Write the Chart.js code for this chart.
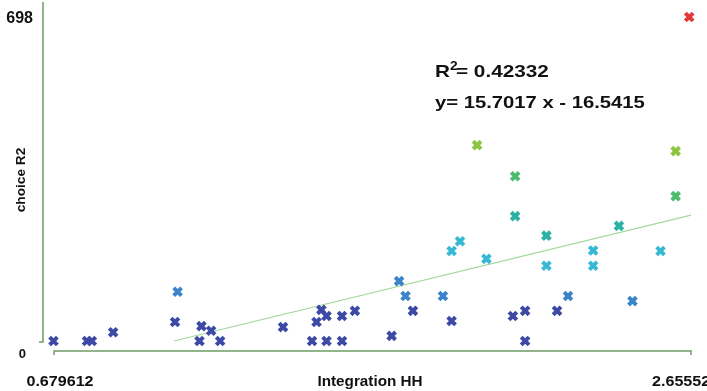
<!DOCTYPE html>
<html>
<head>
<meta charset="utf-8">
<script src="https://cdn.jsdelivr.net/npm/chart.js@4.4.1/dist/chart.umd.min.js"></script>
<style>
  html, body { margin: 0; padding: 0; background: #fff; }
  #wrap { width: 707px; height: 391px; }
</style>
</head>
<body>
<div id="wrap"><canvas id="myChart"></canvas></div>
<script>
(function () {
  'use strict'

  // Data
  const integrationHH = [
    0.678, 0.782, 0.797, 0.863, 1.063, 1.055, 1.137, 1.131, 1.167, 1.195,
    1.390, 1.480, 1.509, 1.494, 1.525, 1.525, 1.573, 1.573, 1.613, 1.727,
    1.750, 1.770, 1.793, 1.886, 1.913, 1.913, 1.939, 2.021, 2.103, 2.141,
    2.141, 2.207, 2.207, 2.240, 2.274, 2.352, 2.352, 2.474, 2.561, 1.992,
    2.110, 2.110, 2.432, 2.608, 2.608, 2.650
  ];
  const choiceR2 = [
    0, 0, 0, 19, 106, 41, 32, 0, 22, 0,
    30, 0, 67, 41, 54, 0, 54, 0, 65, 11,
    129, 97, 65, 97, 43, 194, 215, 177, 54, 65,
    0, 227, 162, 65, 97, 195, 162, 86, 194, 422,
    355, 269, 248, 409, 312, 698
  ];
  const trendX = [1.052, 2.65552];
  const trendY = [0, 271];
  const xTicks = ['0.679612', '2.65552'];
  const yTicks = ['0', '698'];
  const xRange = [0.679612, 2.65552];
  const yRange = [0, 698];

  // colour ramp by value
  function colorFor(v) {
    if (v >= 600) return '#e2393b';
    if (v >= 380) return '#8cc540';
    if (v >= 290) return '#4cbb6d';
    if (v >= 220) return '#2cb2a5';
    if (v >= 150) return '#37b8d5';
    if (v >= 80) return '#3a84cb';
    return '#3c4aa6';
  }

  const points = integrationHH.map((x, i) => ({ x: x, y: choiceR2[i] }));
  const colors = choiceR2.map(colorFor);
  const trend = trendX.map((x, i) => ({ x: x, y: trendY[i] }));

  const FONT = '"Liberation Sans", Arial, sans-serif';

  function stretchText(ctx, text, x, y, font, sx, align) {
    ctx.save();
    ctx.font = font;
    ctx.textBaseline = 'alphabetic';
    ctx.textAlign = 'left';
    const w = ctx.measureText(text).width * sx;
    let left = x;
    if (align === 'center') left = x - w / 2;
    if (align === 'right') left = x - w;
    ctx.translate(left, y);
    ctx.scale(sx, 1);
    ctx.fillText(text, 0, 0);
    ctx.restore();
    return w;
  }

  const decorations = {
    id: 'decorations',
    beforeDatasetsDraw(chart) {
      const ctx = chart.ctx;
      const a = chart.chartArea;
      ctx.save();
      ctx.strokeStyle = '#6f9c66';
      ctx.lineWidth = 1.5;
      // y axis
      const ax = a.left - 11;
      ctx.beginPath();
      ctx.moveTo(ax, a.top - 15);
      ctx.lineTo(ax, a.bottom + 1);
      ctx.lineTo(ax - 4, a.bottom + 1);
      ctx.stroke();
      // x axis
      const ay = a.bottom + 10;
      ctx.beginPath();
      ctx.moveTo(a.left, ay + 4);
      ctx.lineTo(a.left, ay);
      ctx.lineTo(a.right, ay);
      ctx.lineTo(a.right, ay + 4);
      ctx.stroke();
      ctx.restore();
    },
    afterDraw(chart) {
      const ctx = chart.ctx;
      const a = chart.chartArea;
      const xs = chart.scales.x;
      const ys = chart.scales.y;
      ctx.save();
      ctx.fillStyle = '#111';
      // y tick labels
      stretchText(ctx, yTicks[1], a.left - 21, ys.getPixelForValue(yRange[1]) + 6, 'bold 16px ' + FONT, 1.0, 'right');
      stretchText(ctx, yTicks[0], a.left - 28, ys.getPixelForValue(yRange[0]) + 17, 'bold 13px ' + FONT, 1.0, 'right');
      // x tick labels
      const ty = a.bottom + 45;
      stretchText(ctx, xTicks[0], xs.getPixelForValue(xRange[0]) + 6, ty, 'bold 14px ' + FONT, 1.15, 'center');
      stretchText(ctx, xTicks[1], xs.getPixelForValue(xRange[1]) - 39, ty, 'bold 14px ' + FONT, 1.15, 'left');
      // axis titles
      stretchText(ctx, 'Integration HH', 370, ty, 'bold 14px ' + FONT, 1.09, 'center');
      ctx.save();
      ctx.translate(25, 180);
      ctx.rotate(-Math.PI / 2);
      stretchText(ctx, 'choice R2', 0, 0, 'bold 13px ' + FONT, 1.05, 'center');
      ctx.restore();
      // regression annotation
      const f = 'bold 17px ' + FONT;
      let x = 435;
      x += stretchText(ctx, 'R', x, 77, f, 1.22, 'left');
      stretchText(ctx, '2', x, 70, 'bold 12px ' + FONT, 1.15, 'left');
      stretchText(ctx, '= 0.42332', 456, 77, f, 1.22, 'left');
      stretchText(ctx, 'y= 15.7017 x - 16.5415', 435, 108, f, 1.19, 'left');
      ctx.restore();
    }
  };

  var ctx = document.getElementById('myChart');
  var myChart = new Chart(ctx, {
    type: 'scatter',
    data: {
      datasets: [
        {
          label: 'choice R2',
          data: points,
          pointStyle: 'crossRot',
          pointRadius: 5.5,
          pointHoverRadius: 5.5,
          pointBorderWidth: 4,
          pointBorderColor: colors,
          pointBackgroundColor: colors,
          clip: false
        },
        {
          type: 'line',
          label: 'trend',
          data: trend,
          borderColor: '#a3d99c',
          borderWidth: 1.2,
          pointRadius: 0,
          fill: false,
          clip: false
        }
      ]
    },
    options: {
      responsive: true,
      maintainAspectRatio: false,
      animation: false,
      layout: { padding: { left: 54, right: 16, top: 17, bottom: 50 } },
      plugins: {
        legend: { display: false },
        tooltip: { enabled: false },
        title: { display: false }
      },
      scales: {
        x: { type: 'linear', min: xRange[0], max: xRange[1], display: false },
        y: { type: 'linear', min: yRange[0], max: yRange[1], display: false }
      }
    },
    plugins: [decorations]
  });
})()
</script>
</body>
</html>
